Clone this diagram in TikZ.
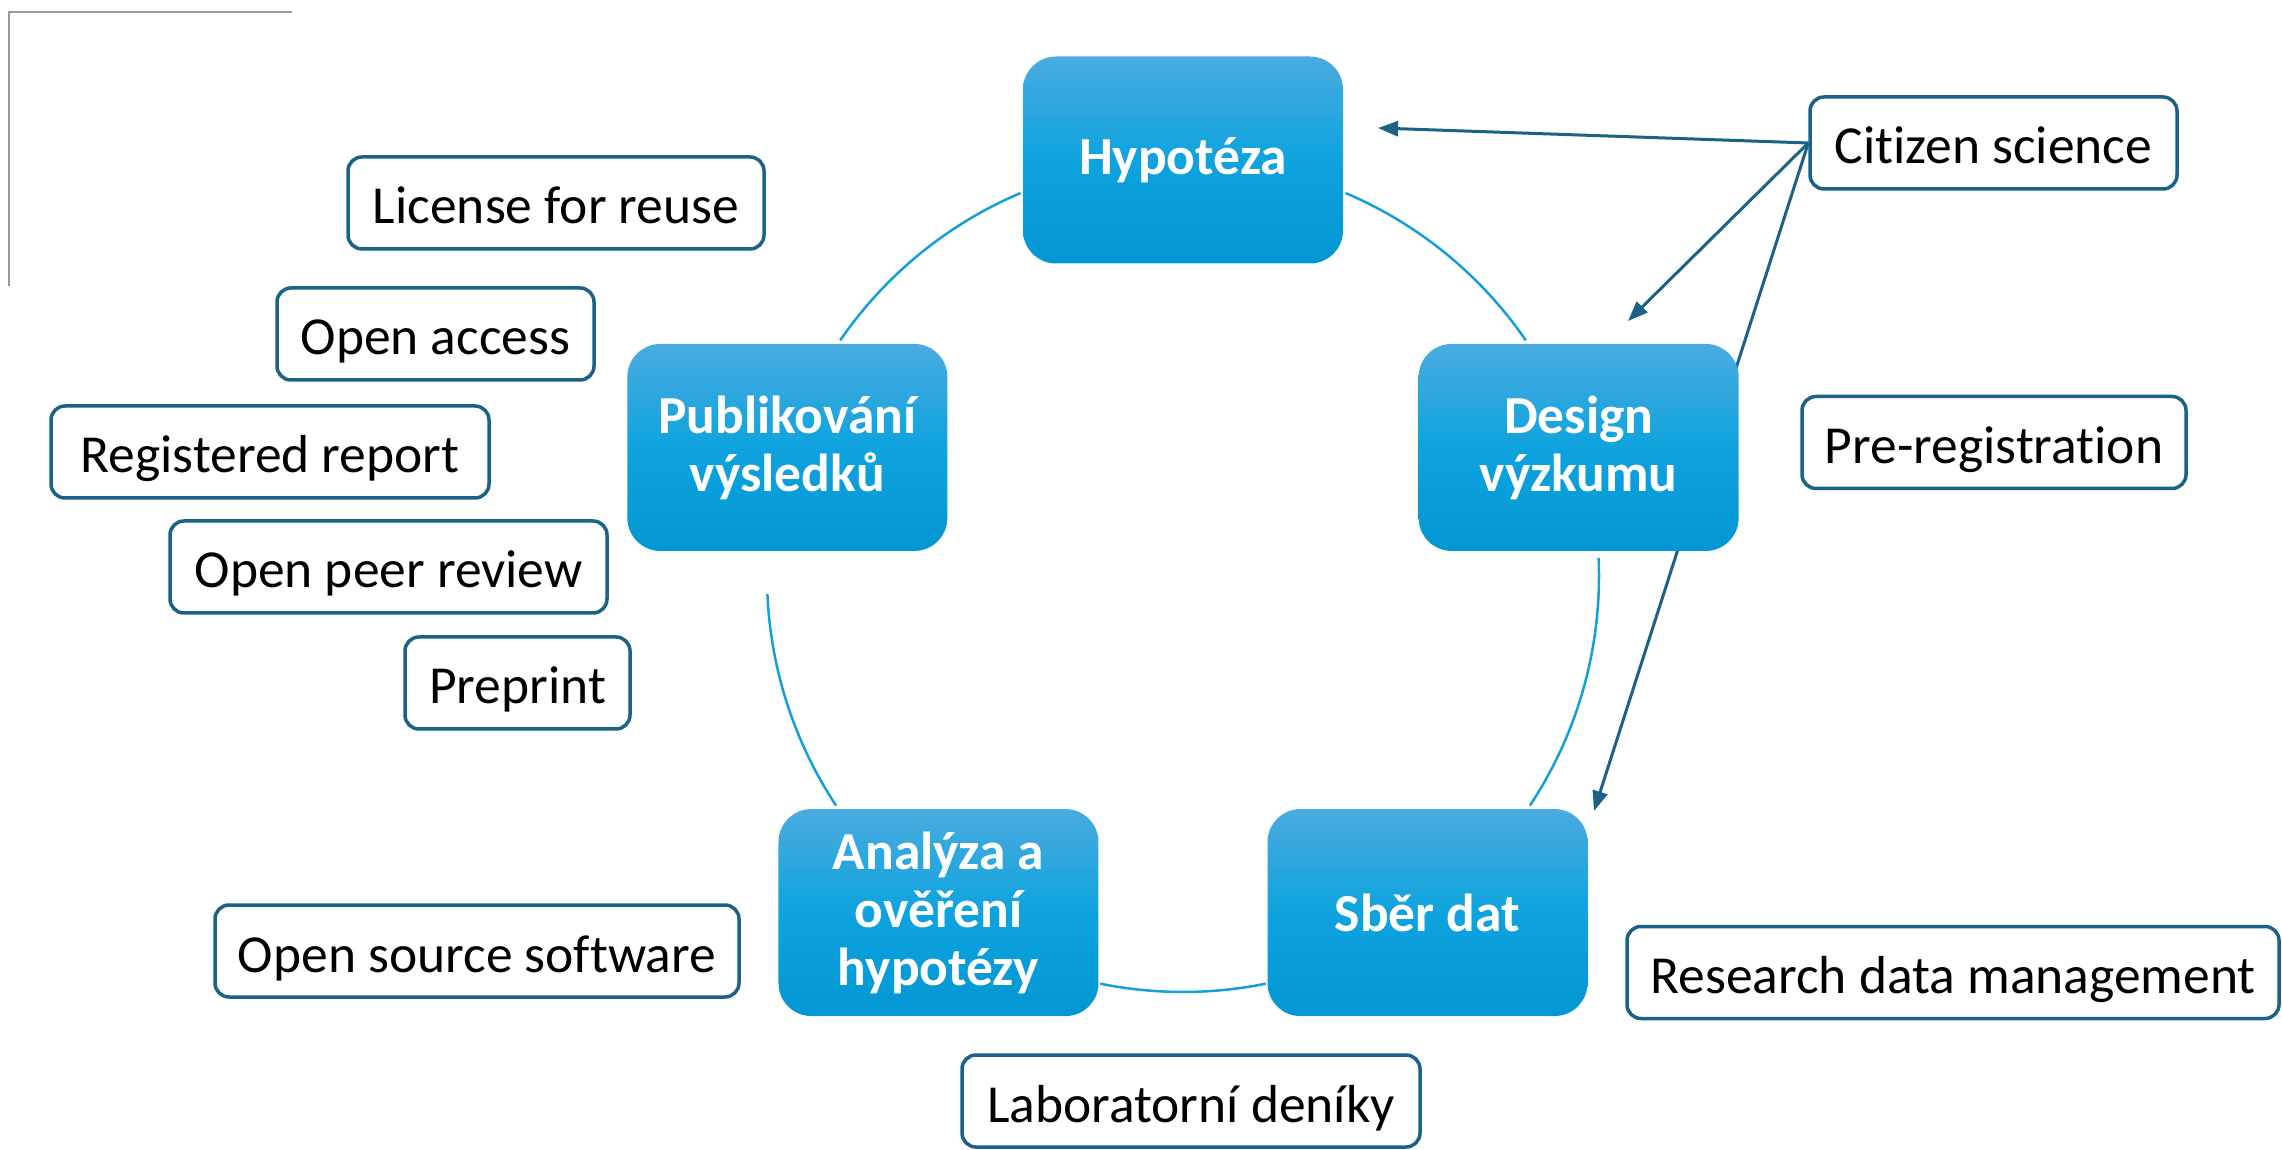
\documentclass[tikz,border=0pt]{standalone}
\usepackage{fontspec}
\setmainfont{Carlito}[Ligatures=NoCommon]
\usetikzlibrary{arrows.meta,backgrounds,calc}
\definecolor{bluetop}{HTML}{4AABDF}
\definecolor{bluemid}{HTML}{0EA3DE}
\definecolor{bluebot}{HTML}{0297D2}
\definecolor{edgeblue}{HTML}{1C6186}
\definecolor{cycleblue}{HTML}{149FD9}
\definecolor{cornergray}{HTML}{9A9A9A}
\begin{document}
\begin{tikzpicture}[x=1pt,y=1pt,
  stage/.style={rounded corners=33pt, minimum width=320pt, minimum height=207pt, inner sep=0pt,
    top color=bluetop, bottom color=bluebot, middle color=bluemid, draw=none,
    text=white, align=center, font=\fontsize{53.5}{58}\bfseries\selectfont},
  item/.style={draw=edgeblue, line width=3.5pt, rounded corners=14pt, fill=white,
    minimum height=92pt, inner sep=0pt, text height=42pt, text depth=0pt,
    text=black, font=\fontsize{53.5}{60}\selectfont},
  cyc/.style={draw=cycleblue, line width=2.5pt},
  link/.style={draw=edgeblue, line width=3pt, -{Triangle[length=20pt,width=15pt]}},
  corner/.style={draw=cornergray, line width=2.8pt}]
\useasboundingbox (0,0) rectangle (2282,1149);
\coordinate (c) at (1183,573);
% stages
\node[stage] (hyp) at ($(c)+(90:416)$) {Hypotéza};
\node[stage] (des) at ($(c)+(18:416)$) {Design\\výzkumu};
\node[stage] (sber) at ($(c)+(-54:416)$) {Sběr dat};
\node[stage] (ana) at ($(c)+(-126:416)$) {Analýza a\\ověření\\hypotézy};
\node[stage] (pub) at ($(c)+(162:416)$) {Publikování\\výsledků};
% items
\node[item, minimum width=416pt] (lic) at (556,946) {License for reuse};
\node[item, minimum width=317pt] (oa) at (435.5,815) {Open access};
\node[item, minimum width=438pt] (rr) at (270,697) {Registered report};
\node[item, minimum width=437pt] (opr) at (388.5,582) {Open peer review};
\node[item, minimum width=225pt] (pre) at (517.5,466) {Preprint};
\node[item, minimum width=524pt] (oss) at (477,198) {Open source software};
\node[item, minimum width=458pt] (lab) at (1191,48) {Laboratorní deníky};
\node[item, minimum width=652pt] (rdm) at (1953,176.5) {Research data management};
\node[item, minimum width=384pt] (prereg) at (1994,706.5) {Pre-registration};
\node[item, minimum width=367pt] (cit) at (1993.5,1006) {Citizen science};
% free ends
\coordinate (t1) at (1378,1021);
\coordinate (t2) at (1628,828);
\coordinate (t3) at (1594,338);
\begin{scope}[on background layer]
  \draw[cyc] ($(c)+(67:416)$) arc[start angle=67, end angle=34.5, radius=416];
  \draw[cyc] ($(c)+(2.5:416)$) arc[start angle=2.5, end angle=-33.5, radius=416];
  \draw[cyc] ($(c)+(-78.5:416)$) arc[start angle=-78.5, end angle=-101.5, radius=416];
  \draw[cyc] ($(c)+(-146.5:416)$) arc[start angle=-146.5, end angle=-177.5, radius=416];
  \draw[cyc] ($(c)+(145.5:416)$) arc[start angle=145.5, end angle=113, radius=416];
  \draw[link] (cit.west) -- (t1);
  \draw[link] (cit.west) -- (t2);
  \draw[link] (cit.west) -- (t3);
\end{scope}
% corner marks
\coordinate (k0) at (9,1137);
\coordinate (k1) at (292,1137);
\coordinate (k2) at (9,863);
\draw[corner] (k1) -- (k0) -- (k2);
\end{tikzpicture}
\end{document}
